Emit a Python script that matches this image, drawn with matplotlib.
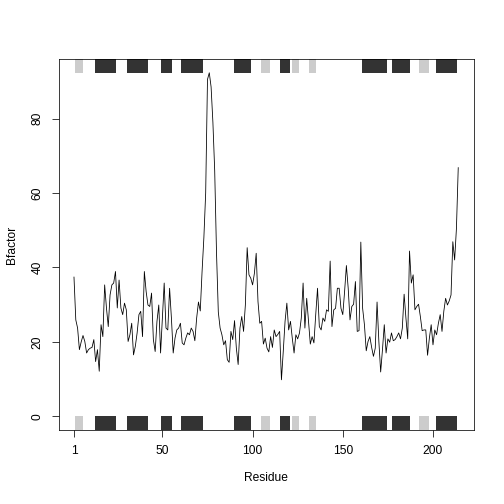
import numpy as np
import matplotlib
matplotlib.use("Agg")
import matplotlib.pyplot as plt
from matplotlib.patches import Rectangle

# B-factor per residue
bfactor = [
    37.4, 25.9, 23.7, 17.9, 20.0, 21.7, 20.1, 17.0, 17.9, 18.3,
    18.5, 20.6, 14.7, 17.9, 12.1, 24.6, 21.4, 35.3, 29.1, 24.1,
    32.6, 35.3, 35.8, 38.9, 29.1, 36.6, 29.1, 27.3, 30.4, 28.6,
    20.1, 21.9, 25.0, 16.5, 18.8, 22.4, 27.3, 28.2, 21.4, 38.9,
    33.5, 29.9, 29.5, 33.1, 20.6, 17.4, 25.5, 29.9, 17.0, 26.4,
    35.8, 23.7, 23.2, 34.4, 26.4, 17.0, 21.0, 23.2, 23.7, 25.0,
    19.7, 19.2, 21.0, 22.4, 21.9, 23.7, 22.8, 20.3, 26.4, 30.7,
    28.3, 38.9, 48.0, 60.0, 90.5, 92.3, 88.5, 79.0, 66.0, 44.0,
    28.0, 23.7, 21.9, 19.2, 20.3, 15.2, 14.5, 22.8, 20.6, 25.7,
    18.3, 13.9, 23.7, 26.8, 22.8, 29.9, 45.3, 38.0, 37.1, 35.3,
    38.4, 43.8, 30.8, 25.0, 25.5, 19.4, 21.0, 18.3, 17.3, 21.4,
    18.5, 23.2, 21.4, 22.0, 22.8, 9.8, 17.4, 25.5, 30.4, 23.2,
    25.5, 21.0, 17.0, 21.9, 20.8, 22.4, 26.4, 35.8, 23.7, 31.7,
    25.5, 19.4, 21.4, 19.7, 27.3, 34.4, 24.1, 23.2, 26.4, 25.5,
    28.6, 28.2, 41.7, 24.1, 28.6, 29.0, 34.4, 34.4, 29.0, 27.3,
    33.5, 40.5, 34.4, 25.9, 29.5, 30.1, 36.2, 22.8, 23.0, 46.8,
    29.0, 24.6, 17.6, 20.1, 21.4, 18.5, 16.1, 18.3, 30.7, 20.1,
    11.9, 17.9, 24.6, 17.0, 20.8, 19.9, 22.4, 20.3, 20.6, 21.4,
    22.4, 20.8, 23.7, 32.8, 26.4, 20.8, 44.4, 35.8, 38.0, 28.6,
    29.5, 30.1, 26.8, 23.0, 23.2, 23.2, 16.4, 21.0, 24.6, 19.2,
    23.2, 21.9, 25.0, 27.3, 22.8, 28.2, 31.7, 29.9, 31.0, 32.6,
    46.9, 42.0, 50.5, 66.8,
]
residues = np.arange(1, len(bfactor) + 1)

# secondary structure spans (start, end) in residue numbers
helix_start = [12.5, 30.5, 49.0, 60.5, 89.5, 115.0, 160.5, 177.5, 201.5]
helix_end = [24.5, 42.0, 55.5, 72.5, 99.0, 120.5, 174.5, 187.5, 213.5]
sheet_start = [1.5, 104.5, 122.0, 131.0, 192.5]
sheet_end = [6.0, 109.5, 126.0, 135.0, 198.0]

xticks = [1, 50, 100, 150, 200]
yticks = [0, 20, 40, 60, 80]

plt.rcParams['font.family'] = ['Liberation Sans', 'DejaVu Sans']

fig = plt.figure(figsize=(7, 7), dpi=72)
ax = fig.add_axes([0.1163, 0.1468, 0.8234, 0.7361])

ax.plot(residues, bfactor, color='black', linewidth=0.8)

# R-style 4% padding around data range, y from 0 to max
n = len(bfactor)
xr = n - 1
ax.set_xlim(1 - 0.04 * xr, n + 0.04 * xr)
ymax = max(bfactor)
ylo, yhi = -0.04 * ymax, ymax * 1.04
ax.set_ylim(ylo, yhi)

# SSE bars in the top and bottom margins
for s, e in zip(helix_start, helix_end):
    for y0, h in [(ymax, yhi - ymax), (ylo, -ylo)]:
        ax.add_patch(Rectangle((s, y0), e - s, h, facecolor='#333333',
                               edgecolor='none', clip_on=False))
for s, e in zip(sheet_start, sheet_end):
    for y0, h in [(ymax, yhi - ymax), (ylo, -ylo)]:
        ax.add_patch(Rectangle((s, y0), e - s, h, facecolor='#cccccc',
                               edgecolor='none', clip_on=False))

ax.set_xticks(xticks)
ax.set_yticks(yticks)
ax.tick_params(direction='out', length=7.2, width=0.75, labelsize=12,
               color='black', pad=8)
ax.tick_params(axis='y', labelrotation=90)
for lab in ax.get_yticklabels():
    lab.set_va('center')

for sp in ax.spines.values():
    sp.set_linewidth(0.75)
    sp.set_color('black')

ax.set_xlabel("Residue", fontsize=12, labelpad=15)
ax.set_ylabel("Bfactor", fontsize=12, labelpad=13)

fig.savefig("out.png", dpi=72)
